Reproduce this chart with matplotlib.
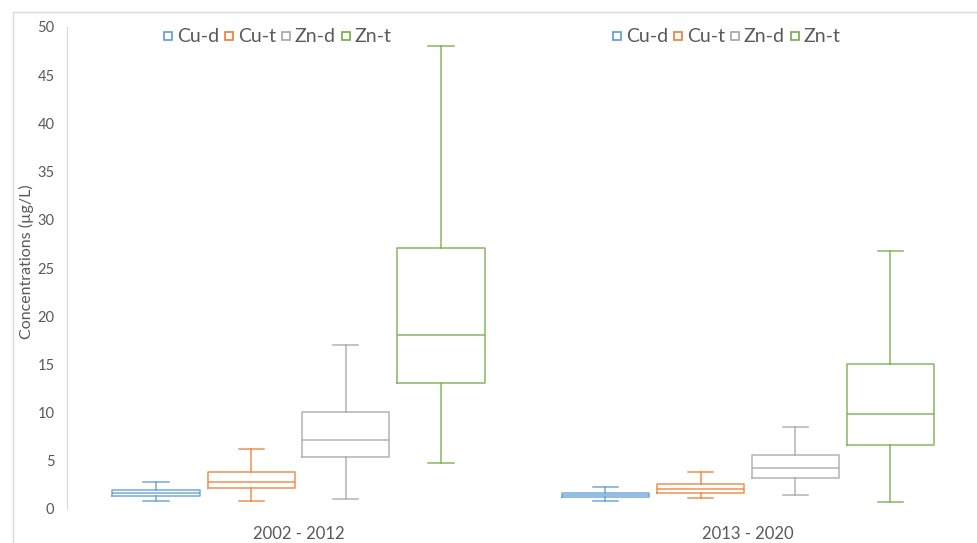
import matplotlib
matplotlib.use("Agg")
import matplotlib.pyplot as plt
from matplotlib.patches import Rectangle
from matplotlib.lines import Line2D

periods = ["2002 - 2012", "2013 - 2020"]
series = ["Cu-d", "Cu-t", "Zn-d", "Zn-t"]
colors = ["#5B9BD5", "#ED7D31", "#A5A5A5", "#70AD47"]

# per series, per period: [whislo, q1, median, q3, whishi]
cu_d = [[0.86, 1.35, 1.69, 1.94, 2.83], [0.83, 1.24, 1.45, 1.66, 2.31]]
cu_t = [[0.86, 2.21, 2.77, 3.80, 6.22], [1.14, 1.69, 2.04, 2.56, 3.84]]
zn_d = [[1.07, 5.39, 7.16, 10.06, 17.0], [1.45, 3.25, 4.22, 5.57, 8.47]]
zn_t = [[4.77, 13.07, 18.05, 27.07, 48.0], [0.73, 6.64, 9.85, 15.04, 26.76]]
all_series = [cu_d, cu_t, zn_d, zn_t]

yticks = [0, 5, 10, 15, 20, 25, 30, 35, 40, 45, 50]

W, H = 977, 543
fig = plt.figure(figsize=(W / 100, H / 100), dpi=100)
plt.rcParams['font.family'] = ['Lato', 'DejaVu Sans']

left, right, bottom, top = 67, 970, 509, 27
ax = fig.add_axes([left / W, 1 - bottom / H, (right - left) / W, (bottom - top) / H])

offsets = [-0.317, -0.105, 0.105, 0.317]
bw = 0.194
for si, (s, col) in enumerate(zip(all_series, colors)):
    stats = []
    pos = []
    for pi, v in enumerate(s):
        stats.append(dict(whislo=v[0], q1=v[1], med=v[2], q3=v[3], whishi=v[4], fliers=[]))
        pos.append(pi + offsets[si])
    lw = 1.1
    kw = dict(color=col, linewidth=lw, alpha=0.85)
    ax.bxp(stats, positions=pos, widths=bw, showfliers=False, capwidths=0.056,
           boxprops=kw, whiskerprops=kw, capprops=kw, medianprops=kw,
           manage_ticks=False)

ax.set_xlim(-0.515, 1.494)
ax.set_ylim(0, 50)
ax.set_yticks(yticks)
ax.set_xticks([0, 1])
ax.set_xticklabels(periods)
ax.tick_params(axis='both', length=0, colors="#595959")
ax.tick_params(axis='y', pad=9, labelsize=10.5)
ax.tick_params(axis='x', pad=12, labelsize=12)
for sp in ["top", "right", "bottom"]:
    ax.spines[sp].set_visible(False)
ax.spines["left"].set_color("#D9D9D9")
ax.set_ylabel("Concentrations (µg/L)", fontsize=11.5, color="#595959")
ax.yaxis.set_label_coords((34 - left) / (right - left), (bottom - 262) / (bottom - top))

handles = [Line2D([], [], marker='s', linestyle='none', markersize=5.5,
                  markerfacecolor='white', markeredgecolor=c, markeredgewidth=1.2)
           for c in colors]
for cx in [278, 727]:
    fig.legend(handles, series, loc='center', bbox_to_anchor=(cx / W, 1 - 37 / H),
               ncol=4, frameon=False, fontsize=14, handlelength=0.4,
               handletextpad=0.25, columnspacing=0.32, labelcolor="#595959",
               borderaxespad=0, borderpad=0)

fig.patches.append(Rectangle((13 / W, -0.1), 1.2, 1 - 12 / H + 0.1, transform=fig.transFigure,
                             fill=False, edgecolor="#D9D9D9", linewidth=1))

fig.savefig("out.png", dpi=100)
